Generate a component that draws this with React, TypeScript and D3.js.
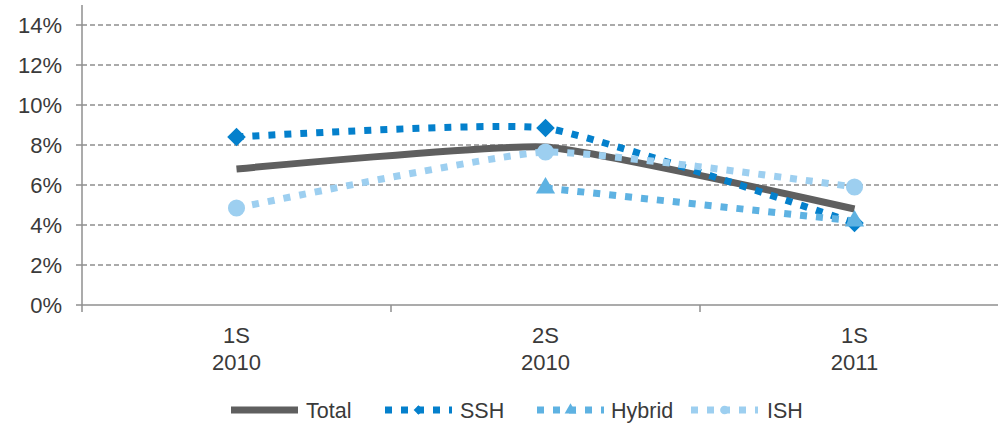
import React from "react";
import * as d3 from "d3";

const categories = ["1S\n2010", "2S\n2010", "1S\n2011"];
const totalValues: (number | null)[] = [6.8, 7.9, 4.8];
const sshValues: (number | null)[] = [8.4, 8.85, 4.1];
const hybridValues: (number | null)[] = [null, 5.85, 4.2];
const ishValues: (number | null)[] = [4.85, 7.65, 5.9];
const yTicks = [0, 2, 4, 6, 8, 10, 12, 14];

const seriesNames = ["Total", "SSH", "Hybrid", "ISH"];
const seriesColors = ["#5f5f5f", "#0480cc", "#5eb2e2", "#9dcff0"];
const seriesMarkers = ["none", "diamond", "triangle", "circle"];

const W = 998;
const H = 425;
const left = 82;
const right = 1009;
const top = 25;
const bottom = 305;
const FONT = "'Liberation Sans', Arial, sans-serif";

function markerPath(kind: string, size: number): string {
  if (kind === "diamond") return d3.symbol(d3.symbolDiamond2, size)() || "";
  if (kind === "triangle") return d3.symbol(d3.symbolTriangle, size)() || "";
  if (kind === "circle") return d3.symbol(d3.symbolCircle, size)() || "";
  return "";
}

export default function App() {
  const x = d3.scaleBand<string>().domain(categories).range([left, right]);
  const y = d3.scaleLinear().domain([0, 14]).range([bottom, top]);
  const cx = (c: string) => (x(c) as number) + x.bandwidth() / 2;

  const allSeries = [totalValues, sshValues, hybridValues, ishValues];
  const line = d3
    .line<[number, number | null]>()
    .defined((d) => d[1] !== null)
    .x((d) => d[0])
    .y((d) => y(d[1] as number))
    .curve(d3.curveCardinal.tension(0.55));

  const legendItems = [
    { x0: 231, tx: 306 },
    { x0: 385, tx: 460 },
    { x0: 537, tx: 611 },
    { x0: 691, tx: 767 },
  ];
  const legendY = 410;
  const textColor = "#3a3a3a";

  return (
    <svg
      width={W}
      height={H}
      style={{ position: "absolute", left: 0, top: 0, background: "#fff" }}
      fontFamily={FONT}
    >
      {yTicks.slice(1).map((t) => (
        <line
          key={"g" + t}
          x1={left}
          x2={W}
          y1={y(t)}
          y2={y(t)}
          stroke="#8f8f8f"
          strokeWidth={1.3}
          strokeDasharray="5 3"
        />
      ))}
      <line x1={left} x2={left} y1={5} y2={bottom} stroke="#8f8f8f" strokeWidth={1.5} />
      {yTicks.map((t) => (
        <g key={"yt" + t}>
          <line x1={left - 6} x2={left} y1={y(t)} y2={y(t)} stroke="#8f8f8f" strokeWidth={1.5} />
          <text x={62} y={y(t)} dy="0.36em" textAnchor="end" fontSize={22} fill={textColor}>
            {t + "%"}
          </text>
        </g>
      ))}
      <line x1={left} x2={W} y1={bottom} y2={bottom} stroke="#8f8f8f" strokeWidth={1.5} />
      {categories.map((c) => (
        <g key={"xt" + c}>
          <line
            x1={x(c) as number}
            x2={x(c) as number}
            y1={bottom}
            y2={bottom + 7}
            stroke="#8f8f8f"
            strokeWidth={1.5}
          />
          {c.split("\n").map((s, i) => (
            <text key={i} x={cx(c)} y={343 + i * 27} textAnchor="middle" fontSize={22} fill={textColor}>
              {s}
            </text>
          ))}
        </g>
      ))}
      {allSeries.map((vals, si) => {
        const pts: [number, number | null][] = categories.map((c, i) => [cx(c), vals[i]]);
        const kind = seriesMarkers[si];
        return (
          <g key={"s" + si}>
            <path
              d={line(pts) || ""}
              fill="none"
              stroke={seriesColors[si]}
              strokeWidth={7}
              strokeDasharray={si === 0 ? undefined : "7 9"}
            />
            {kind !== "none" &&
              pts
                .filter((p) => p[1] !== null)
                .map((p, i) => (
                  <path
                    key={i}
                    d={markerPath(kind, kind === "circle" ? 230 : kind === "diamond" ? 220 : 160)}
                    transform={`translate(${p[0]},${y(p[1] as number)})`}
                    fill={seriesColors[si]}
                  />
                ))}
          </g>
        );
      })}
      {legendItems.map((it, i) => (
        <g key={"l" + i}>
          <line
            x1={it.x0}
            x2={it.x0 + 67}
            y1={legendY}
            y2={legendY}
            stroke={seriesColors[i]}
            strokeWidth={7}
            strokeDasharray={i === 0 ? undefined : "7 9"}
          />
          {seriesMarkers[i] !== "none" && (
            <path
              d={markerPath(seriesMarkers[i], 60)}
              transform={`translate(${it.x0 + 33.5},${legendY})`}
              fill={seriesColors[i]}
            />
          )}
          <text x={it.tx} y={legendY} dy="0.36em" fontSize={21.5} fill={textColor}>
            {seriesNames[i]}
          </text>
        </g>
      ))}
    </svg>
  );
}
